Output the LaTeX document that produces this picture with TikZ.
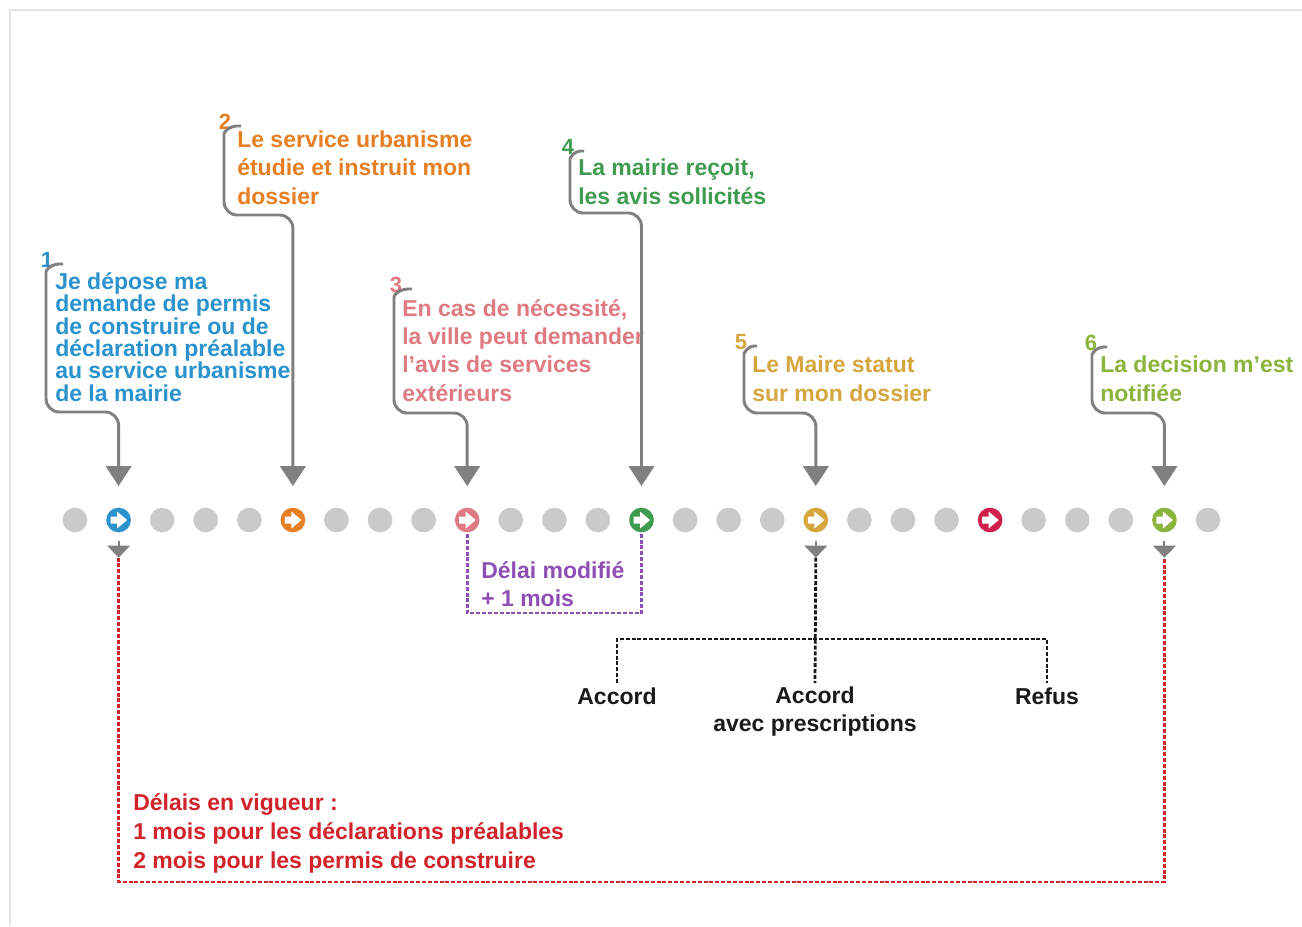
\documentclass[tikz,border=0pt]{standalone}
\usepackage{fontspec}
\setmainfont{Liberation Sans}
\usetikzlibrary{arrows.meta}
\definecolor{cblue}{HTML}{2A92CC}
\definecolor{corange}{HTML}{E67E22}
\definecolor{cpink}{HTML}{E07A82}
\definecolor{cgreen}{HTML}{3F9B50}
\definecolor{cgold}{HTML}{D6A63E}
\definecolor{clime}{HTML}{8CB43C}
\definecolor{ccrimson}{HTML}{D01F4C}
\definecolor{cpurple}{HTML}{8E4FB5}
\definecolor{cred}{HTML}{D2232A}
\definecolor{dotgray}{HTML}{CACACA}
\definecolor{brgray}{HTML}{808080}
\definecolor{framegray}{HTML}{E3E3E3}
\begin{document}
\begin{tikzpicture}[x=0.75pt,y=-0.75pt,
  lbl/.style={font=\fontsize{17.25}{21.2}\selectfont\bfseries, align=left, anchor=base west, inner sep=0pt},
  tight/.style={font=\fontsize{17.25}{16.7}\selectfont\bfseries},
  num/.style={font=\fontsize{16.5}{16.5}\selectfont\bfseries, inner sep=0pt},
  graydot/.style={circle, fill=dotgray, minimum size=18.5pt, inner sep=0pt},
  stepdot/.style={circle, fill=#1, minimum size=18.5pt, inner sep=0pt},
  bracket/.style={draw=brgray, line width=2.2pt, rounded corners=10pt, -{Triangle[width=19pt,length=15pt]}},
  smallarr/.style={draw=brgray, line width=1.5pt, -{Triangle[width=17pt,length=9pt]}},
  reddash/.style={draw=cred, line width=2.1pt, dash pattern=on 3pt off 1.4pt},
  purpdash/.style={draw=cpurple, line width=2.1pt, dash pattern=on 3pt off 1.4pt},
  blkdash/.style={draw=black!90, line width=2.1pt, dash pattern=on 3pt off 1.4pt},
  blk/.style={font=\fontsize{17.25}{20.3}\selectfont\bfseries, text=black!90, inner sep=0pt, anchor=base}
]
\useasboundingbox (0,0) rectangle (1302,926);
\fill[white] (0,0) rectangle (1302,926);
\draw[framegray, line width=2pt] (10,926) -- (10,10) -- (1302,10);

% dots
\foreach \i in {0,2,3,4,6,7,8,10,11,12,14,15,16,18,19,20,22,23,24,26}
  \node[graydot] (d\i) at ({75+\i*43.577},520) {};
\foreach \k/\i/\c in {1/1/cblue,2/5/corange,3/9/cpink,4/13/cgreen,5/17/cgold,x/21/ccrimson,6/25/clime}{
  \node[stepdot=\c] (s\k) at ({75+\i*43.577},520) {};
  \fill[white, shift={(s\k.center)}] (-8,-3.5) -- (-1.5,-3.5) -- (-1.5,-8.5) -- (8.5,0) -- (-1.5,8.5) -- (-1.5,3.5) -- (-8,3.5) -- cycle;
}

% numbers
\node[num, text=cblue]   (n1) at (47,260) {1};
\node[num, text=corange] (n2) at (225,122) {2};
\node[num, text=cpink]   (n3) at (396,285) {3};
\node[num, text=cgreen]  (n4) at (568,147) {4};
\node[num, text=cgold]   (n5) at (741,342) {5};
\node[num, text=clime]   (n6) at (1091,343) {6};

% texts (anchor = baseline of last line)
\node[lbl, tight, text=cblue] (t1) at (55,401) {Je dépose ma\\demande de permis\\de construire ou de\\déclaration préalable\\au service urbanisme\\de la mairie};
\node[lbl, text=corange] (t2) at (237,204) {Le service urbanisme\\étudie et instruit mon\\dossier};
\node[lbl, text=cpink] (t3) at (402,401) {En cas de nécessité,\\la ville peut demander\\l'avis de services\\extérieurs};
\node[lbl, text=cgreen] (t4) at (578,204) {La mairie reçoit,\\les avis sollicités};
\node[lbl, text=cgold] (t5) at (752,401) {Le Maire statut\\sur mon dossier};
\node[lbl, text=clime] (t6) at (1100,401) {La decision m'est\\notifiée};

% brackets
\foreach \k/\xl/\ys/\yb in {1/46/265/412, 2/224/127/215, 3/394/290/413, 4/570/152/213, 5/744/347/413, 6/1092/348/413}
  \draw[bracket] ([shift={(16,4)}]n\k.center) .. controls (\xl+4,\ys-2) and (\xl,\ys+6) .. (\xl,\ys+20) -- (\xl,\yb) -- (s\k.north |- 0,\yb) -- ([yshift=16pt]s\k.north);

% small arrows below
\draw[smallarr] ([yshift=-6pt]s1.south) -- ++(0,17) coordinate (b1);
\draw[smallarr] ([yshift=-6pt]s5.south) -- ++(0,17) coordinate (b5);
\draw[smallarr] ([yshift=-6pt]s6.south) -- ++(0,17) coordinate (b6);

% purple
\draw[purpdash] ([yshift=-1pt]s3.south) -- ++(0,79) -| ([yshift=-1pt]s4.south);
\node[lbl, font=\fontsize{17.25}{21}\selectfont\bfseries, text=cpurple] (dm) at (481,606) {Délai modifié\\+ 1 mois};

% decisions
\node[blk] (acc1) at (617,704) {Accord};
\node[blk, align=center] (acc2) at (815,731) {Accord\\avec prescriptions};
\node[blk] (refus) at (1047,704) {Refus};
\coordinate (j) at (816,639);
\draw[blkdash] (b5) -- ([yshift=3pt]acc2.north);
\draw[blkdash] ([yshift=3pt]acc1.north) |- (j) -| ([yshift=3pt]refus.north);

% red
\draw[reddash] (b1) -- (b1 |- 0,882) -- (b6 |- 0,882) -- (b6);
\node[lbl, font=\fontsize{17.25}{21.4}\selectfont\bfseries, text=cred] (dv) at (133,868) {Délais en vigueur :\\1 mois pour les déclarations préalables\\2 mois pour les permis de construire};
\end{tikzpicture}
\end{document}
